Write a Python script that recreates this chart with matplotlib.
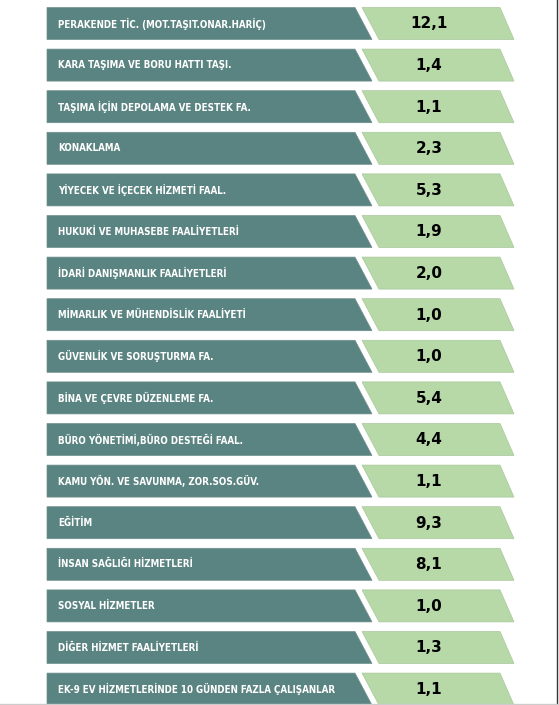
import matplotlib
matplotlib.use("Agg")
import matplotlib.pyplot as plt
from matplotlib.patches import Polygon
from matplotlib import font_manager
from matplotlib.font_manager import FontProperties

# sectors and values (top to bottom)
sectors = [
    "PERAKENDE TİC. (MOT.TAŞIT.ONAR.HARİÇ)",
    "KARA TAŞIMA VE BORU HATTI TAŞI.",
    "TAŞIMA İÇİN DEPOLAMA VE DESTEK FA.",
    "KONAKLAMA",
    "YİYECEK VE İÇECEK HİZMETİ FAAL.",
    "HUKUKİ VE MUHASEBE FAALİYETLERİ",
    "İDARİ DANIŞMANLIK FAALİYETLERİ",
    "MİMARLIK VE MÜHENDİSLİK FAALİYETİ",
    "GÜVENLİK VE SORUŞTURMA FA.",
    "BİNA VE ÇEVRE DÜZENLEME FA.",
    "BÜRO YÖNETİMİ,BÜRO DESTEĞİ FAAL.",
    "KAMU YÖN. VE SAVUNMA, ZOR.SOS.GÜV.",
    "EĞİTİM",
    "İNSAN SAĞLIĞI HİZMETLERİ",
    "SOSYAL HİZMETLER",
    "DİĞER HİZMET FAALİYETLERİ",
    "EK-9 EV HİZMETLERİNDE 10 GÜNDEN FAZLA ÇALIŞANLAR",
]
values = [12.1, 1.4, 1.1, 2.3, 5.3, 1.9, 2.0, 1.0, 1.0, 5.4, 4.4, 1.1, 9.3, 8.1, 1.0, 1.3, 1.1]

teal = "#5a8481"
green = "#b6d9a7"

# look for a narrow bold face for the labels
label_fp = None
for key in ["LiberationSansNarrow-Bold.", "DejaVuSansCondensed-Bold.", "RobotoCondensed-Bold."]:
    for f in font_manager.fontManager.ttflist:
        if key in f.fname:
            label_fp = FontProperties(fname=f.fname, size=7)
            break
    if label_fp is not None:
        break
if label_fp is None:
    label_fp = FontProperties(family="DejaVu Sans", weight="bold", size=6.5)

W, H = 559, 705
fig = plt.figure(figsize=(W / 100, H / 100), dpi=100)
ax = fig.add_axes([0, 0, 1, 1])
ax.set_xlim(0, W)
ax.set_ylim(H, 0)
ax.axis("off")

top0, pitch, h = 7.5, 41.6, 32
x0, dark_end, slant = 47, 355, 17
g_start, g_end = 362, 500

for i, (name, v) in enumerate(zip(sectors, values)):
    t = top0 + i * pitch
    b = t + h
    ax.add_patch(Polygon([(x0, t), (dark_end, t), (dark_end + slant, b), (x0, b)],
                         closed=True, facecolor=teal, edgecolor="#6f8f8c", lw=0.5))
    ax.add_patch(Polygon([(g_start, t), (g_end, t), (g_end + 14, b), (g_start + slant, b)],
                         closed=True, facecolor=green, edgecolor="#a9c79c", lw=0.5))
    ax.text(58, t + h / 2, name, color="white", fontproperties=label_fp,
            va="center", ha="left")
    ax.text(429, t + h / 2 + 0.5, f"{v:.1f}".replace(".", ","), color="black",
            fontsize=11, fontweight="bold", va="center", ha="center")

# frame lines at right and bottom
ax.plot([557, 557], [0, 703], color="#333333", lw=1)
ax.plot([0, W], [704, 704], color="#cccccc", lw=1)

fig.savefig("out.png", dpi=100)
